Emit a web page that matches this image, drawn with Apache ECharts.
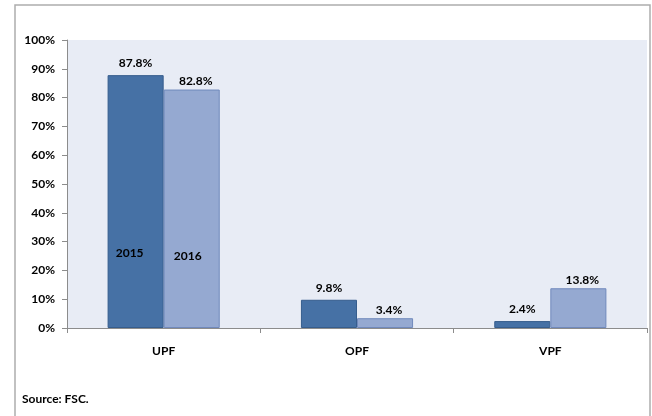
<!DOCTYPE html>
<html>
<head>
<meta charset="utf-8">
<script src="https://cdn.jsdelivr.net/npm/echarts@6/dist/echarts.min.js"></script>
<style>
  html, body { margin: 0; padding: 0; background: #fff; }
  #chart { width: 652px; height: 416px; }
</style>
</head>
<body>
<div id="chart"></div>
<script>
// Pension fund types and their shares (%) per year
const categories = ['UPF', 'OPF', 'VPF'];
const share2015 = [87.8, 9.8, 2.4];
const share2016 = [82.8, 3.4, 13.8];
const yTicks = { min: 0, max: 100, interval: 10 };
// Height (in %) where the year tags sit inside the UPF bars
const yearTagLevel = { '2015': 26, '2016': 25 };

const FONT = 'Lato';
const labelStyle = { fontFamily: FONT, fontWeight: 'bold', fontSize: 12, color: '#000' };

function yearTag(name, dx) {
  return {
    symbol: 'rect',
    symbolSize: 1,
    itemStyle: { color: 'rgba(0,0,0,0)' },
    label: Object.assign({ show: true, position: 'inside', formatter: '{b}', offset: [dx, 0] }, labelStyle),
    data: [{ name: name, coord: ['UPF', yearTagLevel[name]] }]
  };
}

const chart = echarts.init(document.getElementById('chart'), null, { renderer: 'canvas' });
chart.setOption({
  animation: false,
  textStyle: { fontFamily: FONT },
  grid: {
    left: 67, right: 5, top: 40, bottom: 88,
    show: true, backgroundColor: '#E8ECF5', borderWidth: 0
  },
  xAxis: {
    type: 'category',
    data: categories,
    axisLine: { lineStyle: { color: '#8C8C8C', width: 1 } },
    axisTick: { show: true, length: 5, lineStyle: { color: '#8C8C8C' } },
    axisLabel: Object.assign({ margin: 17 }, labelStyle),
    splitLine: { show: false }
  },
  yAxis: {
    type: 'value',
    min: yTicks.min, max: yTicks.max, interval: yTicks.interval,
    axisLine: { show: true, lineStyle: { color: '#8C8C8C', width: 1 } },
    axisTick: { show: true, length: 5, lineStyle: { color: '#8C8C8C' } },
    axisLabel: Object.assign({ margin: 12, formatter: '{value}%' }, labelStyle),
    splitLine: { show: false }
  },
  series: [
    {
      name: '2015',
      type: 'bar',
      data: share2015,
      barGap: '0%',
      barCategoryGap: '42%',
      itemStyle: { color: '#4671A5', borderColor: '#365D8D', borderWidth: 1 },
      label: Object.assign({ show: true, position: 'top', distance: 6, formatter: '{c}%' }, labelStyle),
      markPoint: yearTag('2015', -6)
    },
    {
      name: '2016',
      type: 'bar',
      data: share2016,
      itemStyle: { color: '#95A9D1', borderColor: '#7089BC', borderWidth: 1 },
      label: Object.assign({ show: true, position: 'top', distance: 2, offset: [4, 0], formatter: '{c}%' }, labelStyle),
      markPoint: yearTag('2016', -4)
    }
  ],
  graphic: [
    {
      type: 'rect',
      silent: true,
      shape: { x: 15, y: 5, width: 635, height: 430 },
      style: { fill: null, stroke: '#ADADAD', lineWidth: 1.5 }
    },
    {
      type: 'text',
      left: 22, top: 393,
      style: { text: 'Source: FSC.', font: 'bold 12px ' + FONT, fill: '#000' }
    }
  ]
});
</script>
</body>
</html>
